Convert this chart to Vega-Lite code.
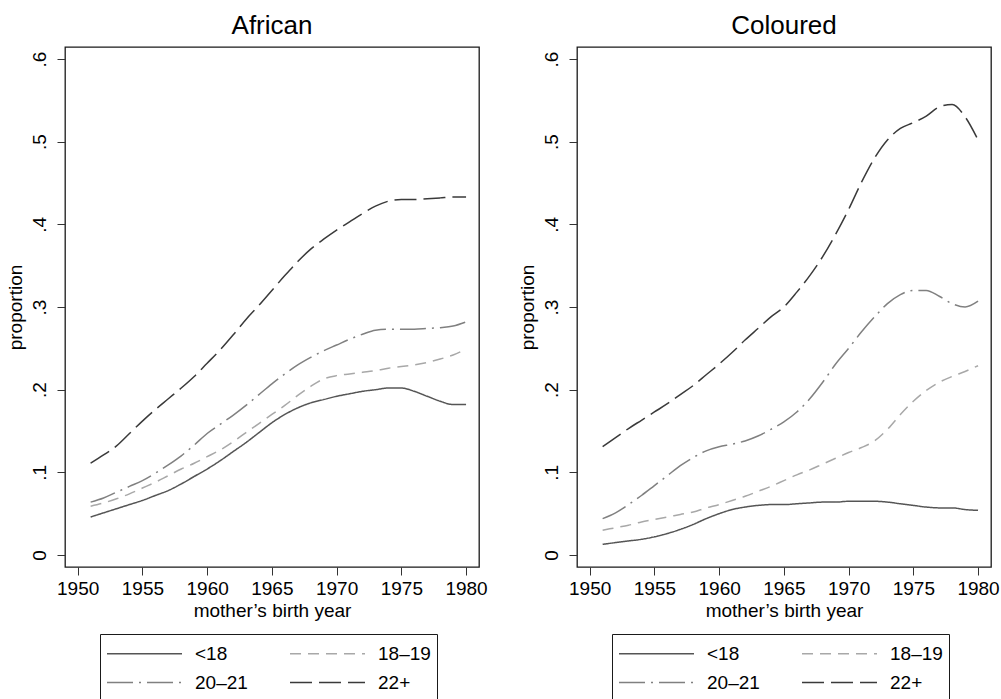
{
  "$schema": "https://vega.github.io/schema/vega-lite/v6.json",
  "background": "white",
  "padding": {"left": 5, "top": 12, "right": 0, "bottom": 0},
  "config": {
    "font": "Liberation Sans",
    "view": {"stroke": "#1a1a1a", "strokeWidth": 1.3},
    "axis": {
      "domain": false, "grid": false, "ticks": true, "tickSize": 8, "tickColor": "#333", "tickWidth": 1,
      "labelFont": "Liberation Sans", "labelFontSize": 19, "labelColor": "#000",
      "titleFont": "Liberation Sans", "titleFontSize": 19, "titleFontWeight": "normal", "titleColor": "#000"
    },
    "title": {"font": "Liberation Sans", "fontSize": 26, "fontWeight": "normal", "color": "#000", "anchor": "middle", "offset": 8},
    "legend": {
      "orient": "none", "legendX": 35, "legendY": 587, "direction": "horizontal",
      "title": null, "columns": 2, "symbolType": "M-1,0H5", "symbolSize": 625, "symbolStrokeWidth": 1.5,
      "labelFont": "Liberation Sans", "labelFontSize": 19, "labelColor": "#000", "labelOffset": 62,
      "columnPadding": 39, "rowPadding": 5, "padding": 6, "strokeColor": "#1a1a1a", "fillColor": "white"
    }
  },
  "data": {"values": [
    {"race":"African","group":"<18","year":1951,"proportion":0.046},
    {"race":"African","group":"<18","year":1952,"proportion":0.051},
    {"race":"African","group":"<18","year":1953,"proportion":0.056},
    {"race":"African","group":"<18","year":1954,"proportion":0.061},
    {"race":"African","group":"<18","year":1955,"proportion":0.066},
    {"race":"African","group":"<18","year":1956,"proportion":0.072},
    {"race":"African","group":"<18","year":1957,"proportion":0.078},
    {"race":"African","group":"<18","year":1958,"proportion":0.086},
    {"race":"African","group":"<18","year":1959,"proportion":0.095},
    {"race":"African","group":"<18","year":1960,"proportion":0.104},
    {"race":"African","group":"<18","year":1961,"proportion":0.114},
    {"race":"African","group":"<18","year":1962,"proportion":0.125},
    {"race":"African","group":"<18","year":1963,"proportion":0.136},
    {"race":"African","group":"<18","year":1964,"proportion":0.148},
    {"race":"African","group":"<18","year":1965,"proportion":0.160},
    {"race":"African","group":"<18","year":1966,"proportion":0.170},
    {"race":"African","group":"<18","year":1967,"proportion":0.178},
    {"race":"African","group":"<18","year":1968,"proportion":0.184},
    {"race":"African","group":"<18","year":1969,"proportion":0.188},
    {"race":"African","group":"<18","year":1970,"proportion":0.192},
    {"race":"African","group":"<18","year":1971,"proportion":0.195},
    {"race":"African","group":"<18","year":1972,"proportion":0.198},
    {"race":"African","group":"<18","year":1973,"proportion":0.200},
    {"race":"African","group":"<18","year":1974,"proportion":0.202},
    {"race":"African","group":"<18","year":1975,"proportion":0.202},
    {"race":"African","group":"<18","year":1976,"proportion":0.198},
    {"race":"African","group":"<18","year":1977,"proportion":0.192},
    {"race":"African","group":"<18","year":1978,"proportion":0.186},
    {"race":"African","group":"<18","year":1979,"proportion":0.182},
    {"race":"African","group":"<18","year":1980,"proportion":0.182},
    {"race":"African","group":"18–19","year":1951,"proportion":0.059},
    {"race":"African","group":"18–19","year":1952,"proportion":0.063},
    {"race":"African","group":"18–19","year":1953,"proportion":0.068},
    {"race":"African","group":"18–19","year":1954,"proportion":0.074},
    {"race":"African","group":"18–19","year":1955,"proportion":0.081},
    {"race":"African","group":"18–19","year":1956,"proportion":0.088},
    {"race":"African","group":"18–19","year":1957,"proportion":0.096},
    {"race":"African","group":"18–19","year":1958,"proportion":0.104},
    {"race":"African","group":"18–19","year":1959,"proportion":0.111},
    {"race":"African","group":"18–19","year":1960,"proportion":0.119},
    {"race":"African","group":"18–19","year":1961,"proportion":0.127},
    {"race":"African","group":"18–19","year":1962,"proportion":0.137},
    {"race":"African","group":"18–19","year":1963,"proportion":0.148},
    {"race":"African","group":"18–19","year":1964,"proportion":0.159},
    {"race":"African","group":"18–19","year":1965,"proportion":0.170},
    {"race":"African","group":"18–19","year":1966,"proportion":0.181},
    {"race":"African","group":"18–19","year":1967,"proportion":0.193},
    {"race":"African","group":"18–19","year":1968,"proportion":0.204},
    {"race":"African","group":"18–19","year":1969,"proportion":0.213},
    {"race":"African","group":"18–19","year":1970,"proportion":0.217},
    {"race":"African","group":"18–19","year":1971,"proportion":0.219},
    {"race":"African","group":"18–19","year":1972,"proportion":0.221},
    {"race":"African","group":"18–19","year":1973,"proportion":0.223},
    {"race":"African","group":"18–19","year":1974,"proportion":0.226},
    {"race":"African","group":"18–19","year":1975,"proportion":0.228},
    {"race":"African","group":"18–19","year":1976,"proportion":0.230},
    {"race":"African","group":"18–19","year":1977,"proportion":0.233},
    {"race":"African","group":"18–19","year":1978,"proportion":0.237},
    {"race":"African","group":"18–19","year":1979,"proportion":0.242},
    {"race":"African","group":"18–19","year":1980,"proportion":0.249},
    {"race":"African","group":"20–21","year":1951,"proportion":0.064},
    {"race":"African","group":"20–21","year":1952,"proportion":0.069},
    {"race":"African","group":"20–21","year":1953,"proportion":0.076},
    {"race":"African","group":"20–21","year":1954,"proportion":0.083},
    {"race":"African","group":"20–21","year":1955,"proportion":0.090},
    {"race":"African","group":"20–21","year":1956,"proportion":0.099},
    {"race":"African","group":"20–21","year":1957,"proportion":0.109},
    {"race":"African","group":"20–21","year":1958,"proportion":0.120},
    {"race":"African","group":"20–21","year":1959,"proportion":0.133},
    {"race":"African","group":"20–21","year":1960,"proportion":0.147},
    {"race":"African","group":"20–21","year":1961,"proportion":0.158},
    {"race":"African","group":"20–21","year":1962,"proportion":0.169},
    {"race":"African","group":"20–21","year":1963,"proportion":0.181},
    {"race":"African","group":"20–21","year":1964,"proportion":0.194},
    {"race":"African","group":"20–21","year":1965,"proportion":0.207},
    {"race":"African","group":"20–21","year":1966,"proportion":0.219},
    {"race":"African","group":"20–21","year":1967,"proportion":0.230},
    {"race":"African","group":"20–21","year":1968,"proportion":0.239},
    {"race":"African","group":"20–21","year":1969,"proportion":0.247},
    {"race":"African","group":"20–21","year":1970,"proportion":0.254},
    {"race":"African","group":"20–21","year":1971,"proportion":0.261},
    {"race":"African","group":"20–21","year":1972,"proportion":0.267},
    {"race":"African","group":"20–21","year":1973,"proportion":0.272},
    {"race":"African","group":"20–21","year":1974,"proportion":0.273},
    {"race":"African","group":"20–21","year":1975,"proportion":0.273},
    {"race":"African","group":"20–21","year":1976,"proportion":0.273},
    {"race":"African","group":"20–21","year":1977,"proportion":0.274},
    {"race":"African","group":"20–21","year":1978,"proportion":0.275},
    {"race":"African","group":"20–21","year":1979,"proportion":0.277},
    {"race":"African","group":"20–21","year":1980,"proportion":0.282},
    {"race":"African","group":"22+","year":1951,"proportion":0.111},
    {"race":"African","group":"22+","year":1952,"proportion":0.121},
    {"race":"African","group":"22+","year":1953,"proportion":0.132},
    {"race":"African","group":"22+","year":1954,"proportion":0.147},
    {"race":"African","group":"22+","year":1955,"proportion":0.162},
    {"race":"African","group":"22+","year":1956,"proportion":0.176},
    {"race":"African","group":"22+","year":1957,"proportion":0.189},
    {"race":"African","group":"22+","year":1958,"proportion":0.202},
    {"race":"African","group":"22+","year":1959,"proportion":0.216},
    {"race":"African","group":"22+","year":1960,"proportion":0.232},
    {"race":"African","group":"22+","year":1961,"proportion":0.248},
    {"race":"African","group":"22+","year":1962,"proportion":0.266},
    {"race":"African","group":"22+","year":1963,"proportion":0.285},
    {"race":"African","group":"22+","year":1964,"proportion":0.302},
    {"race":"African","group":"22+","year":1965,"proportion":0.320},
    {"race":"African","group":"22+","year":1966,"proportion":0.338},
    {"race":"African","group":"22+","year":1967,"proportion":0.355},
    {"race":"African","group":"22+","year":1968,"proportion":0.370},
    {"race":"African","group":"22+","year":1969,"proportion":0.382},
    {"race":"African","group":"22+","year":1970,"proportion":0.393},
    {"race":"African","group":"22+","year":1971,"proportion":0.403},
    {"race":"African","group":"22+","year":1972,"proportion":0.413},
    {"race":"African","group":"22+","year":1973,"proportion":0.422},
    {"race":"African","group":"22+","year":1974,"proportion":0.428},
    {"race":"African","group":"22+","year":1975,"proportion":0.430},
    {"race":"African","group":"22+","year":1976,"proportion":0.430},
    {"race":"African","group":"22+","year":1977,"proportion":0.431},
    {"race":"African","group":"22+","year":1978,"proportion":0.432},
    {"race":"African","group":"22+","year":1979,"proportion":0.433},
    {"race":"African","group":"22+","year":1980,"proportion":0.433},
    {"race":"Coloured","group":"<18","year":1951,"proportion":0.013},
    {"race":"Coloured","group":"<18","year":1952,"proportion":0.015},
    {"race":"Coloured","group":"<18","year":1953,"proportion":0.017},
    {"race":"Coloured","group":"<18","year":1954,"proportion":0.019},
    {"race":"Coloured","group":"<18","year":1955,"proportion":0.022},
    {"race":"Coloured","group":"<18","year":1956,"proportion":0.026},
    {"race":"Coloured","group":"<18","year":1957,"proportion":0.031},
    {"race":"Coloured","group":"<18","year":1958,"proportion":0.037},
    {"race":"Coloured","group":"<18","year":1959,"proportion":0.044},
    {"race":"Coloured","group":"<18","year":1960,"proportion":0.050},
    {"race":"Coloured","group":"<18","year":1961,"proportion":0.055},
    {"race":"Coloured","group":"<18","year":1962,"proportion":0.058},
    {"race":"Coloured","group":"<18","year":1963,"proportion":0.060},
    {"race":"Coloured","group":"<18","year":1964,"proportion":0.061},
    {"race":"Coloured","group":"<18","year":1965,"proportion":0.061},
    {"race":"Coloured","group":"<18","year":1966,"proportion":0.062},
    {"race":"Coloured","group":"<18","year":1967,"proportion":0.063},
    {"race":"Coloured","group":"<18","year":1968,"proportion":0.064},
    {"race":"Coloured","group":"<18","year":1969,"proportion":0.064},
    {"race":"Coloured","group":"<18","year":1970,"proportion":0.065},
    {"race":"Coloured","group":"<18","year":1971,"proportion":0.065},
    {"race":"Coloured","group":"<18","year":1972,"proportion":0.065},
    {"race":"Coloured","group":"<18","year":1973,"proportion":0.064},
    {"race":"Coloured","group":"<18","year":1974,"proportion":0.062},
    {"race":"Coloured","group":"<18","year":1975,"proportion":0.060},
    {"race":"Coloured","group":"<18","year":1976,"proportion":0.058},
    {"race":"Coloured","group":"<18","year":1977,"proportion":0.057},
    {"race":"Coloured","group":"<18","year":1978,"proportion":0.057},
    {"race":"Coloured","group":"<18","year":1979,"proportion":0.055},
    {"race":"Coloured","group":"<18","year":1980,"proportion":0.054},
    {"race":"Coloured","group":"18–19","year":1951,"proportion":0.030},
    {"race":"Coloured","group":"18–19","year":1952,"proportion":0.033},
    {"race":"Coloured","group":"18–19","year":1953,"proportion":0.036},
    {"race":"Coloured","group":"18–19","year":1954,"proportion":0.040},
    {"race":"Coloured","group":"18–19","year":1955,"proportion":0.043},
    {"race":"Coloured","group":"18–19","year":1956,"proportion":0.046},
    {"race":"Coloured","group":"18–19","year":1957,"proportion":0.049},
    {"race":"Coloured","group":"18–19","year":1958,"proportion":0.052},
    {"race":"Coloured","group":"18–19","year":1959,"proportion":0.057},
    {"race":"Coloured","group":"18–19","year":1960,"proportion":0.061},
    {"race":"Coloured","group":"18–19","year":1961,"proportion":0.066},
    {"race":"Coloured","group":"18–19","year":1962,"proportion":0.071},
    {"race":"Coloured","group":"18–19","year":1963,"proportion":0.077},
    {"race":"Coloured","group":"18–19","year":1964,"proportion":0.083},
    {"race":"Coloured","group":"18–19","year":1965,"proportion":0.090},
    {"race":"Coloured","group":"18–19","year":1966,"proportion":0.097},
    {"race":"Coloured","group":"18–19","year":1967,"proportion":0.103},
    {"race":"Coloured","group":"18–19","year":1968,"proportion":0.110},
    {"race":"Coloured","group":"18–19","year":1969,"proportion":0.117},
    {"race":"Coloured","group":"18–19","year":1970,"proportion":0.124},
    {"race":"Coloured","group":"18–19","year":1971,"proportion":0.130},
    {"race":"Coloured","group":"18–19","year":1972,"proportion":0.138},
    {"race":"Coloured","group":"18–19","year":1973,"proportion":0.152},
    {"race":"Coloured","group":"18–19","year":1974,"proportion":0.170},
    {"race":"Coloured","group":"18–19","year":1975,"proportion":0.186},
    {"race":"Coloured","group":"18–19","year":1976,"proportion":0.199},
    {"race":"Coloured","group":"18–19","year":1977,"proportion":0.209},
    {"race":"Coloured","group":"18–19","year":1978,"proportion":0.216},
    {"race":"Coloured","group":"18–19","year":1979,"proportion":0.222},
    {"race":"Coloured","group":"18–19","year":1980,"proportion":0.229},
    {"race":"Coloured","group":"20–21","year":1951,"proportion":0.044},
    {"race":"Coloured","group":"20–21","year":1952,"proportion":0.051},
    {"race":"Coloured","group":"20–21","year":1953,"proportion":0.061},
    {"race":"Coloured","group":"20–21","year":1954,"proportion":0.072},
    {"race":"Coloured","group":"20–21","year":1955,"proportion":0.084},
    {"race":"Coloured","group":"20–21","year":1956,"proportion":0.096},
    {"race":"Coloured","group":"20–21","year":1957,"proportion":0.108},
    {"race":"Coloured","group":"20–21","year":1958,"proportion":0.118},
    {"race":"Coloured","group":"20–21","year":1959,"proportion":0.126},
    {"race":"Coloured","group":"20–21","year":1960,"proportion":0.131},
    {"race":"Coloured","group":"20–21","year":1961,"proportion":0.134},
    {"race":"Coloured","group":"20–21","year":1962,"proportion":0.138},
    {"race":"Coloured","group":"20–21","year":1963,"proportion":0.144},
    {"race":"Coloured","group":"20–21","year":1964,"proportion":0.152},
    {"race":"Coloured","group":"20–21","year":1965,"proportion":0.161},
    {"race":"Coloured","group":"20–21","year":1966,"proportion":0.173},
    {"race":"Coloured","group":"20–21","year":1967,"proportion":0.189},
    {"race":"Coloured","group":"20–21","year":1968,"proportion":0.209},
    {"race":"Coloured","group":"20–21","year":1969,"proportion":0.231},
    {"race":"Coloured","group":"20–21","year":1970,"proportion":0.250},
    {"race":"Coloured","group":"20–21","year":1971,"proportion":0.270},
    {"race":"Coloured","group":"20–21","year":1972,"proportion":0.288},
    {"race":"Coloured","group":"20–21","year":1973,"proportion":0.304},
    {"race":"Coloured","group":"20–21","year":1974,"proportion":0.315},
    {"race":"Coloured","group":"20–21","year":1975,"proportion":0.320},
    {"race":"Coloured","group":"20–21","year":1976,"proportion":0.320},
    {"race":"Coloured","group":"20–21","year":1977,"proportion":0.313},
    {"race":"Coloured","group":"20–21","year":1978,"proportion":0.304},
    {"race":"Coloured","group":"20–21","year":1979,"proportion":0.300},
    {"race":"Coloured","group":"20–21","year":1980,"proportion":0.307},
    {"race":"Coloured","group":"22+","year":1951,"proportion":0.131},
    {"race":"Coloured","group":"22+","year":1952,"proportion":0.142},
    {"race":"Coloured","group":"22+","year":1953,"proportion":0.153},
    {"race":"Coloured","group":"22+","year":1954,"proportion":0.163},
    {"race":"Coloured","group":"22+","year":1955,"proportion":0.173},
    {"race":"Coloured","group":"22+","year":1956,"proportion":0.183},
    {"race":"Coloured","group":"22+","year":1957,"proportion":0.194},
    {"race":"Coloured","group":"22+","year":1958,"proportion":0.205},
    {"race":"Coloured","group":"22+","year":1959,"proportion":0.218},
    {"race":"Coloured","group":"22+","year":1960,"proportion":0.231},
    {"race":"Coloured","group":"22+","year":1961,"proportion":0.245},
    {"race":"Coloured","group":"22+","year":1962,"proportion":0.260},
    {"race":"Coloured","group":"22+","year":1963,"proportion":0.274},
    {"race":"Coloured","group":"22+","year":1964,"proportion":0.288},
    {"race":"Coloured","group":"22+","year":1965,"proportion":0.300},
    {"race":"Coloured","group":"22+","year":1966,"proportion":0.318},
    {"race":"Coloured","group":"22+","year":1967,"proportion":0.338},
    {"race":"Coloured","group":"22+","year":1968,"proportion":0.361},
    {"race":"Coloured","group":"22+","year":1969,"proportion":0.388},
    {"race":"Coloured","group":"22+","year":1970,"proportion":0.418},
    {"race":"Coloured","group":"22+","year":1971,"proportion":0.451},
    {"race":"Coloured","group":"22+","year":1972,"proportion":0.480},
    {"race":"Coloured","group":"22+","year":1973,"proportion":0.502},
    {"race":"Coloured","group":"22+","year":1974,"proportion":0.516},
    {"race":"Coloured","group":"22+","year":1975,"proportion":0.523},
    {"race":"Coloured","group":"22+","year":1976,"proportion":0.531},
    {"race":"Coloured","group":"22+","year":1977,"proportion":0.542},
    {"race":"Coloured","group":"22+","year":1978,"proportion":0.545},
    {"race":"Coloured","group":"22+","year":1979,"proportion":0.530},
    {"race":"Coloured","group":"22+","year":1980,"proportion":0.502}
  ]},
  "bounds": "flush",
  "spacing": 98,
  "resolve": {
    "scale": {"color": "independent", "strokeDash": "independent"},
    "legend": {"color": "independent", "strokeDash": "independent"}
  },
  "hconcat": [
    {
      "width": 414, "height": 520,
      "title": {"text": "African"},
      "transform": [{"filter": "datum.race == 'African'"}],
      "mark": {"type": "line", "strokeWidth": 1.5, "interpolate": "monotone"},
      "encoding": {
        "x": {"field": "year", "type": "quantitative",
              "scale": {"domain": [1949.02, 1981.0], "nice": false, "zero": false},
              "axis": {"values": [1950,1955,1960,1965,1970,1975,1980], "format": "d", "title": "mother’s birth year", "labelPadding": 4, "titlePadding": 3}},
        "y": {"field": "proportion", "type": "quantitative",
              "scale": {"domain": [-0.0145, 0.6145], "nice": false, "zero": false},
              "axis": {"values": [0,0.1,0.2,0.3,0.4,0.5,0.6], "labelExpr": "datum.value == 0 ? '0' : slice(format(datum.value, '.1f'), 1)", "labelAngle": -90, "labelAlign": "center", "labelBaseline": "bottom", "labelPadding": 8, "title": "proportion", "titlePadding": 5}},
        "color": {"field": "group", "type": "nominal",
                  "scale": {"domain": ["<18","18–19","20–21","22+"], "range": ["#555555","#a8a8a8","#808080","#3a3a3a"]}},
        "strokeDash": {"field": "group", "type": "nominal",
                  "scale": {"domain": ["<18","18–19","20–21","22+"], "range": [[1,0],[11,7],[26,6,2,6],[22,7]]}}
      }
    },
    {
      "width": 414, "height": 520,
      "title": {"text": "Coloured"},
      "transform": [{"filter": "datum.race == 'Coloured'"}],
      "mark": {"type": "line", "strokeWidth": 1.5, "interpolate": "monotone"},
      "encoding": {
        "x": {"field": "year", "type": "quantitative",
              "scale": {"domain": [1949.02, 1981.0], "nice": false, "zero": false},
              "axis": {"values": [1950,1955,1960,1965,1970,1975,1980], "format": "d", "title": "mother’s birth year", "labelPadding": 4, "titlePadding": 3}},
        "y": {"field": "proportion", "type": "quantitative",
              "scale": {"domain": [-0.0145, 0.6145], "nice": false, "zero": false},
              "axis": {"values": [0,0.1,0.2,0.3,0.4,0.5,0.6], "labelExpr": "datum.value == 0 ? '0' : slice(format(datum.value, '.1f'), 1)", "labelAngle": -90, "labelAlign": "center", "labelBaseline": "bottom", "labelPadding": 8, "title": "proportion", "titlePadding": 5}},
        "color": {"field": "group", "type": "nominal",
                  "scale": {"domain": ["<18","18–19","20–21","22+"], "range": ["#555555","#a8a8a8","#808080","#3a3a3a"]}},
        "strokeDash": {"field": "group", "type": "nominal",
                  "scale": {"domain": ["<18","18–19","20–21","22+"], "range": [[1,0],[11,7],[26,6,2,6],[22,7]]}}
      }
    }
  ]
}
